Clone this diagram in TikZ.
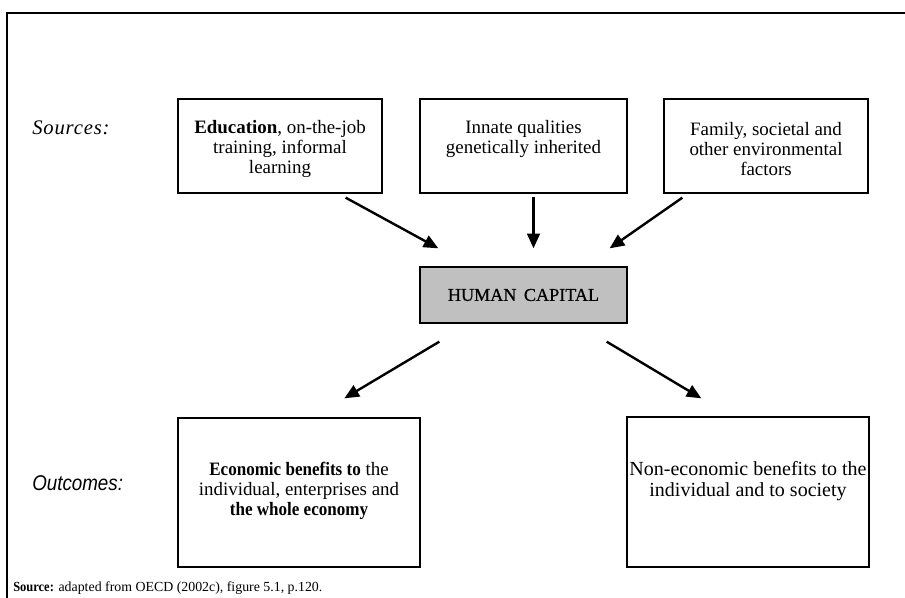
\documentclass[tikz,border=0pt]{standalone}
\usepackage{fontspec}
\setmainfont{Liberation Serif}
\newfontfamily\narrowsans[FakeStretch=0.88]{Liberation Sans}
\newfontfamily\narrowserif[FakeStretch=0.9]{Liberation Serif}
\newfontfamily\spacedserif[LetterSpace=4]{Liberation Serif}
\newfontfamily\heavyserif[FakeBold=0.6]{Liberation Serif}
\usetikzlibrary{arrows.meta,calc}
\begin{document}
\begin{tikzpicture}[x=0.75pt,y=-0.75pt,
  box/.style={draw,line width=1pt,inner sep=0pt},
  boxtext/.style={align=center,inner sep=0pt,font=\fontsize{14.2}{15.2}\selectfont},
  side/.style={anchor=west,inner sep=0pt},
  flow/.style={line width=1.8pt,-{Triangle[length=11pt,width=9.5pt]}}]
% page area and the open frame round the figure
\clip (0,0) rectangle (905,598);
\fill[white] (0,0) rectangle (905,598);
\draw[line width=1.5pt] (7,13) rectangle (930,630);

% sources
\node[box,minimum width=153pt,minimum height=70.5pt] (edu) at (280,146) {};
\node[box,minimum width=155.25pt,minimum height=70.5pt] (innate) at (523.5,146) {};
\node[box,minimum width=153pt,minimum height=70.5pt] (family) at (766,146) {};
\node[boxtext] (edut) at (280,149) {\textbf{Education}, on-the-job\\training, informal\\learning};
\node[boxtext] (innatet) at (523.5,139) {Innate qualities\\genetically inherited};
\node[boxtext] (familyt) at (766,149) {Family, societal and\\other environmental\\factors};

% human capital
\node[box,fill={rgb,255:red,192;green,192;blue,192},minimum width=155.25pt,minimum height=42pt,
  font=\fontsize{13.6}{15}\heavyserif] (hc) at (523.5,295) {HUMAN\, CAPITAL};

% outcomes
\node[box,minimum width=181.5pt,minimum height=111.75pt] (econ) at (299,492.5) {};
\node[box,minimum width=181.5pt,minimum height=112.5pt] (nonecon) at (748,492) {};
\node[boxtext] (econt) at (299,491) {{\narrowserif\bfseries Economic benefits to} the\\individual, enterprises and\\{\narrowserif\bfseries the whole economy}};
\node[boxtext,font=\fontsize{15}{15.2}\selectfont] (nonecont) at (748,481) {Non-economic benefits to the\\individual and to society};

% side labels
\node[side,font=\fontsize{15.5}{15}\spacedserif\itshape] (src) at (32,128) {Sources:};
\node[side,font=\fontsize{16}{15}\narrowsans\itshape] (out) at (32,483) {Outcomes:};

% arrows
\draw[flow] ($(edu.south east)+(-37,4)$) -- ($(hc.north west)+(19,-18)$);
\draw[flow] ($(innate.south)+(10,3)$) -- ($(hc.north)+(10,-18)$);
\draw[flow] ($(family.south west)+(19,4)$) -- ($(hc.north east)+(-18,-18)$);
\draw[flow] ($(hc.south west)+(20,18)$) -- ($(econ.north west)+(167,-19)$);
\draw[flow] ($(hc.south east)+(-21,18)$) -- ($(nonecon.north west)+(75,-18)$);

% footnote
\node[anchor=base west,inner sep=0pt,font=\fontsize{10.4}{12}\selectfont] (note) at (13,591)
  {{\narrowserif\bfseries Source:} adapted from OECD (2002c), figure 5.1, p.120.};
\end{tikzpicture}
\end{document}
